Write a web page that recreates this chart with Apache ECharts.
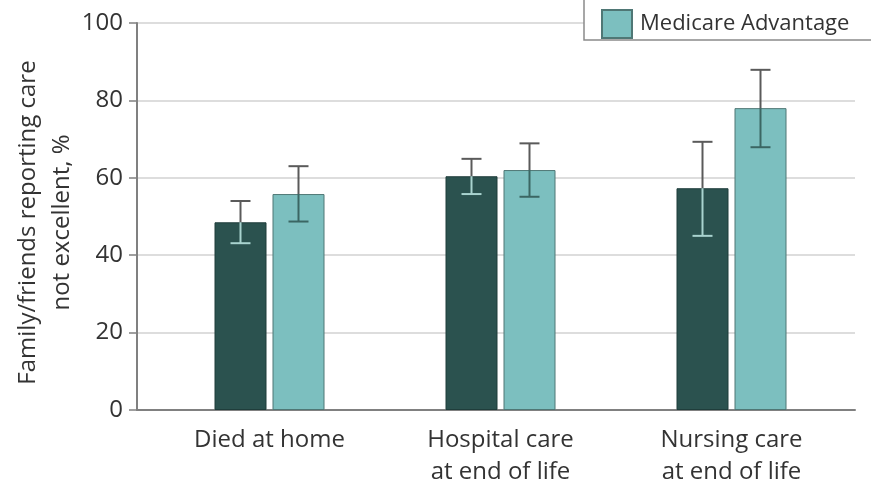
<!DOCTYPE html>
<html>
<head>
<meta charset="utf-8">
<script src="https://cdn.jsdelivr.net/npm/echarts@6/dist/echarts.min.js"></script>
<style>
  html, body { margin: 0; padding: 0; background: #fff; }
  #chart { width: 871px; height: 483px; }
</style>
</head>
<body>
<div id="chart"></div>
<script>
// Categories and values (percent of family/friends reporting care not excellent)
const categories = ['Died at home', 'Hospital care\nat end of life', 'Nursing care\nat end of life'];
const seriesNames = ['Traditional Medicare', 'Medicare Advantage'];
const traditionalValues = [48.5, 60.4, 57.3];
const traditionalLow = [43.1, 55.8, 45.0];
const traditionalHigh = [54.0, 64.9, 69.3];
const advantageValues = [55.8, 62.0, 78.0];
const advantageLow = [48.7, 55.1, 67.9];
const advantageHigh = [63.0, 68.9, 87.9];
const yTicks = [0, 20, 40, 60, 80, 100];

const FONT = 'Open Sans';
const TEXT = '#333';
const BAR_W = 52;
const BAR_GAP = 6;
const DARK = '#2b524f', DARK_EDGE = '#1f3d3b';
const LIGHT = '#7cbfbf', LIGHT_EDGE = '#4f7775';

const chart = echarts.init(document.getElementById('chart'));

// Error bars: whisker above the bar in grey, the part inside the bar in a contrasting tone
function errorSeries(name, values, lows, highs, side, innerColor) {
  return {
    type: 'custom',
    name: name + ' CI',
    xAxisIndex: 1, yAxisIndex: 1,
    z: 5,
    silent: true,
    data: values.map((v, i) => [i, lows[i], highs[i], v]),
    renderItem: function (params, api) {
      const i = api.value(0);
      const offset = side * (BAR_W + BAR_GAP) / 2;
      const x = api.coord([i, 0])[0] + offset;
      const yLow = api.coord([i, api.value(1)])[1];
      const yHigh = api.coord([i, api.value(2)])[1];
      const yTop = api.coord([i, api.value(3)])[1];
      const cap = 10;
      const outer = { stroke: '#5a5a5a', lineWidth: 2 };
      const inner = { stroke: innerColor, lineWidth: 2 };
      return {
        type: 'group',
        children: [
          { type: 'line', shape: { x1: x, y1: yHigh, x2: x, y2: yTop }, style: outer },
          { type: 'line', shape: { x1: x - cap, y1: yHigh, x2: x + cap, y2: yHigh }, style: outer },
          { type: 'line', shape: { x1: x, y1: yTop, x2: x, y2: yLow }, style: inner },
          { type: 'line', shape: { x1: x - cap, y1: yLow, x2: x + cap, y2: yLow }, style: inner }
        ]
      };
    }
  };
}

const option = {
  animation: false,
  backgroundColor: '#fff',
  textStyle: { fontFamily: FONT },
  grid: [
    { left: 137, right: 16, top: 23, bottom: 73, containLabel: false, outerBoundsMode: 'none' },
    { left: 154, right: 24, top: 23, bottom: 73, containLabel: false, outerBoundsMode: 'none' }
  ],
  graphic: [{
    type: 'rect',
    z: 10,
    shape: { x: 584, y: -10, width: 300, height: 50 },
    style: { fill: '#fff', stroke: '#8a8a8a', lineWidth: 1.5 }
  }],
  legend: {
    z: 12,
    data: ['Medicare Advantage'],
    icon: 'rect',
    left: 596, top: 4,
    itemWidth: 30, itemHeight: 28,
    textStyle: { fontFamily: FONT, fontSize: 22, color: TEXT, padding: [0, 0, 0, 3] }
  },
  xAxis: [
    {
      type: 'value', gridIndex: 0, min: 0, max: 1,
      axisLine: { show: true, onZero: false, lineStyle: { color: '#808080', width: 2 } },
      axisTick: { show: false }, axisLabel: { show: false }, splitLine: { show: false }
    },
    {
      type: 'category', gridIndex: 1, data: categories,
      axisLine: { show: false }, axisTick: { show: false },
      axisLabel: { fontFamily: FONT, fontSize: 24, color: TEXT, lineHeight: 32, margin: 14 }
    }
  ],
  yAxis: [
    {
      type: 'value', gridIndex: 0, min: yTicks[0], max: yTicks[yTicks.length - 1], interval: 20,
      axisLine: { show: true, lineStyle: { color: '#808080', width: 2 } },
      axisTick: { show: true, length: 8, lineStyle: { color: '#808080', width: 1.5 } },
      axisLabel: { fontFamily: FONT, fontSize: 24, color: TEXT, margin: 14 },
      splitLine: { show: true, lineStyle: { color: '#d2d2d2', width: 1.5 } },
      name: 'Family/friends reporting care\nnot excellent, %',
      nameLocation: 'middle', nameRotate: 90, nameGap: 58, nameMoveOverlap: false,
      nameTextStyle: { fontFamily: FONT, fontSize: 24, color: TEXT, lineHeight: 34, align: 'center', padding: [0, 12, 0, 0] }
    },
    { type: 'value', gridIndex: 1, min: 0, max: 100, show: false }
  ],
  series: [
    {
      name: seriesNames[0], type: 'bar', xAxisIndex: 1, yAxisIndex: 1,
      data: traditionalValues, barWidth: BAR_W, barGap: (BAR_GAP / BAR_W * 100) + '%',
      itemStyle: { color: DARK, borderColor: DARK_EDGE, borderWidth: 1 }, z: 3
    },
    {
      name: seriesNames[1], type: 'bar', xAxisIndex: 1, yAxisIndex: 1,
      data: advantageValues, barWidth: BAR_W,
      itemStyle: { color: LIGHT, borderColor: LIGHT_EDGE, borderWidth: 1 }, z: 3
    },
    errorSeries(seriesNames[0], traditionalValues, traditionalLow, traditionalHigh, -1, '#a9d3cf'),
    errorSeries(seriesNames[1], advantageValues, advantageLow, advantageHigh, 1, '#3b6663')
  ]
};

chart.setOption(option);
</script>
</body>
</html>
